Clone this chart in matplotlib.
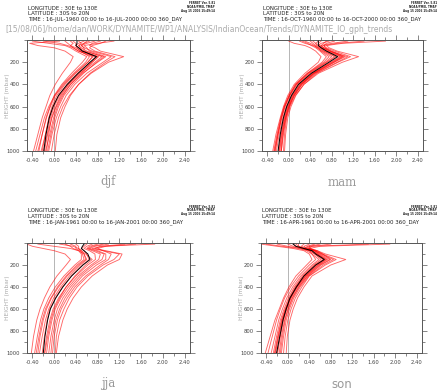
import matplotlib
matplotlib.use("Agg")
import matplotlib.pyplot as plt
from matplotlib.ticker import MultipleLocator, FixedLocator

levels = [10, 30, 50, 70, 100, 150, 200, 300, 400, 500, 600, 700, 850, 1000]

# ---- djf ----
djf_members = [
    [0.10, -0.45, -0.30, 0.00, 0.20, 0.35, 0.30, 0.15, 0.02, -0.08, -0.15, -0.22, -0.30, -0.38],
    [0.60, 0.55, 0.50, 0.55, 0.70, 1.05, 0.90, 0.60, 0.38, 0.22, 0.12, 0.04, -0.04, -0.10],
    [0.85, 0.70, 0.65, 0.75, 0.85, 1.28, 1.00, 0.68, 0.45, 0.30, 0.20, 0.12, 0.05, 0.02],
    [0.30, 0.35, 0.30, 0.35, 0.45, 0.70, 0.62, 0.40, 0.20, 0.05, -0.04, -0.10, -0.16, -0.22],
    [-0.40, -0.10, 0.20, 0.30, 0.40, 0.60, 0.52, 0.32, 0.14, 0.00, -0.08, -0.15, -0.22, -0.28],
    [1.10, 0.80, 0.55, 0.60, 0.65, 0.95, 0.80, 0.52, 0.30, 0.14, 0.04, -0.04, -0.12, -0.18],
    [0.45, 0.50, 0.45, 0.50, 0.60, 0.88, 0.75, 0.48, 0.27, 0.12, 0.03, -0.05, -0.10, -0.14],
    [0.20, 0.25, 0.30, 0.40, 0.50, 0.82, 0.70, 0.46, 0.26, 0.10, 0.00, -0.07, -0.13, -0.20],
    [0.75, 0.60, 0.50, 0.55, 0.55, 0.72, 0.62, 0.38, 0.18, 0.02, -0.07, -0.14, -0.22, -0.30],
    [0.55, 0.45, 0.40, 0.42, 0.48, 0.65, 0.58, 0.36, 0.16, 0.01, -0.10, -0.18, -0.26, -0.34],
    [0.95, 0.85, 0.70, 0.65, 0.75, 1.12, 0.95, 0.66, 0.45, 0.28, 0.16, 0.08, 0.00, -0.05],
    [-0.20, 0.10, 0.25, 0.35, 0.45, 0.76, 0.68, 0.44, 0.24, 0.08, -0.02, -0.09, -0.16, -0.24],
    [0.35, 0.40, 0.40, 0.45, 0.55, 0.92, 0.78, 0.54, 0.34, 0.18, 0.08, 0.01, -0.06, -0.12],
    [0.65, 0.55, 0.45, 0.48, 0.52, 0.80, 0.70, 0.50, 0.30, 0.16, 0.06, -0.01, -0.08, -0.16],
]
djf_mean = [0.42, 0.42, 0.40, 0.45, 0.52, 0.78, 0.66, 0.44, 0.24, 0.08, -0.02, -0.09, -0.15, -0.19]

# ---- mam ----
mam_members = [
    [0.00, 0.10, 0.30, 0.40, 0.50, 0.60, 0.55, 0.30, 0.10, -0.02, -0.10, -0.16, -0.24, -0.30],
    [1.80, 1.00, 0.70, 0.75, 0.90, 1.30, 1.00, 0.55, 0.28, 0.12, 0.02, -0.04, -0.08, -0.10],
    [0.40, 0.45, 0.50, 0.55, 0.65, 0.85, 0.70, 0.38, 0.15, 0.02, -0.07, -0.13, -0.20, -0.25],
    [0.70, 0.65, 0.60, 0.65, 0.80, 1.05, 0.85, 0.48, 0.24, 0.10, 0.00, -0.06, -0.12, -0.15],
    [0.20, 0.30, 0.45, 0.55, 0.60, 0.75, 0.65, 0.35, 0.12, 0.00, -0.09, -0.15, -0.22, -0.28],
    [1.10, 0.80, 0.60, 0.65, 0.75, 1.10, 0.90, 0.50, 0.25, 0.10, 0.01, -0.05, -0.10, -0.14],
    [0.55, 0.50, 0.55, 0.60, 0.70, 0.95, 0.78, 0.44, 0.20, 0.06, -0.03, -0.09, -0.15, -0.19],
    [0.85, 0.70, 0.65, 0.70, 0.85, 1.15, 0.92, 0.52, 0.28, 0.13, 0.04, -0.02, -0.06, -0.08],
    [0.30, 0.40, 0.48, 0.52, 0.62, 0.80, 0.68, 0.36, 0.14, 0.01, -0.08, -0.14, -0.21, -0.27],
    [0.60, 0.55, 0.58, 0.62, 0.72, 0.98, 0.80, 0.45, 0.21, 0.07, -0.02, -0.08, -0.14, -0.18],
    [1.40, 0.90, 0.65, 0.68, 0.78, 1.02, 0.84, 0.47, 0.22, 0.08, -0.01, -0.07, -0.13, -0.17],
    [0.45, 0.50, 0.52, 0.58, 0.66, 0.88, 0.72, 0.40, 0.17, 0.04, -0.05, -0.11, -0.18, -0.23],
    [0.75, 0.60, 0.55, 0.62, 0.76, 1.00, 0.82, 0.46, 0.23, 0.09, 0.00, -0.06, -0.11, -0.14],
    [0.25, 0.35, 0.42, 0.50, 0.58, 0.70, 0.62, 0.34, 0.13, 0.01, -0.08, -0.14, -0.20, -0.26],
]
mam_mean = [0.55, 0.55, 0.55, 0.60, 0.70, 0.91, 0.75, 0.42, 0.18, 0.05, -0.04, -0.10, -0.16, -0.20]

# ---- jja ----
jja_members = [
    [1.85, 0.90, 0.70, 0.90, 1.20, 1.10, 0.90, 0.62, 0.42, 0.28, 0.18, 0.10, 0.04, 0.02],
    [-0.50, -0.40, -0.20, 0.00, 0.20, 0.30, 0.22, 0.05, -0.08, -0.18, -0.26, -0.32, -0.38, -0.42],
    [1.30, 0.85, 0.75, 0.95, 1.25, 1.20, 0.98, 0.70, 0.50, 0.35, 0.24, 0.16, 0.08, 0.04],
    [0.60, 0.55, 0.50, 0.55, 0.60, 0.64, 0.52, 0.32, 0.15, 0.02, -0.08, -0.13, -0.18, -0.22],
    [0.20, 0.30, 0.35, 0.45, 0.55, 0.58, 0.45, 0.24, 0.08, -0.05, -0.14, -0.20, -0.26, -0.30],
    [1.00, 0.75, 0.65, 0.80, 0.95, 0.95, 0.78, 0.52, 0.34, 0.20, 0.10, 0.03, -0.03, -0.06],
    [0.80, 0.65, 0.60, 0.70, 0.85, 0.82, 0.68, 0.44, 0.26, 0.12, 0.02, -0.04, -0.10, -0.14],
    [-0.30, 0.00, 0.30, 0.45, 0.50, 0.50, 0.38, 0.18, 0.02, -0.10, -0.19, -0.25, -0.31, -0.36],
    [0.40, 0.45, 0.45, 0.50, 0.58, 0.70, 0.58, 0.38, 0.22, 0.10, 0.00, -0.06, -0.12, -0.17],
    [1.50, 0.95, 0.80, 0.90, 1.05, 1.00, 0.85, 0.58, 0.38, 0.24, 0.13, 0.06, 0.00, -0.03],
    [0.10, 0.35, 0.45, 0.50, 0.55, 0.60, 0.48, 0.28, 0.12, -0.01, -0.10, -0.16, -0.22, -0.27],
    [0.70, 0.60, 0.55, 0.65, 0.75, 0.76, 0.62, 0.40, 0.22, 0.08, -0.02, -0.08, -0.14, -0.18],
    [0.90, 0.70, 0.62, 0.75, 0.92, 0.88, 0.72, 0.48, 0.30, 0.16, 0.06, 0.00, -0.06, -0.10],
    [0.30, 0.40, 0.40, 0.48, 0.52, 0.55, 0.42, 0.22, 0.06, -0.06, -0.16, -0.22, -0.28, -0.33],
]
jja_mean = [0.55, 0.52, 0.50, 0.55, 0.62, 0.66, 0.53, 0.32, 0.16, 0.03, -0.07, -0.12, -0.17, -0.20]

# ---- son ----
son_members = [
    [1.90, 0.60, 0.40, 0.55, 0.70, 1.08, 0.80, 0.45, 0.30, 0.18, 0.10, 0.04, -0.01, -0.03],
    [1.50, 0.40, 0.30, 0.50, 0.65, 0.90, 0.70, 0.40, 0.26, 0.14, 0.06, 0.00, -0.05, -0.08],
    [-0.50, -0.20, 0.10, 0.30, 0.40, 0.45, 0.35, 0.15, 0.02, -0.08, -0.16, -0.24, -0.33, -0.42],
    [0.10, 0.15, 0.30, 0.45, 0.55, 0.70, 0.55, 0.32, 0.16, 0.05, -0.03, -0.09, -0.15, -0.20],
    [0.30, 0.25, 0.35, 0.50, 0.60, 0.78, 0.60, 0.36, 0.20, 0.08, 0.00, -0.06, -0.12, -0.16],
    [-0.20, 0.00, 0.25, 0.40, 0.45, 0.58, 0.45, 0.24, 0.09, -0.02, -0.10, -0.17, -0.24, -0.31],
    [0.50, 0.35, 0.40, 0.50, 0.58, 0.74, 0.58, 0.34, 0.18, 0.06, -0.02, -0.08, -0.14, -0.19],
    [0.00, 0.10, 0.25, 0.40, 0.50, 0.62, 0.48, 0.27, 0.12, 0.01, -0.07, -0.14, -0.21, -0.27],
    [0.80, 0.45, 0.38, 0.52, 0.62, 0.85, 0.66, 0.39, 0.23, 0.11, 0.03, -0.03, -0.08, -0.12],
    [0.20, 0.20, 0.30, 0.42, 0.50, 0.66, 0.50, 0.29, 0.14, 0.03, -0.05, -0.12, -0.19, -0.25],
    [-0.40, -0.10, 0.20, 0.35, 0.45, 0.52, 0.40, 0.20, 0.05, -0.06, -0.14, -0.21, -0.29, -0.37],
    [0.60, 0.40, 0.42, 0.55, 0.65, 0.80, 0.62, 0.37, 0.21, 0.09, 0.01, -0.05, -0.10, -0.14],
    [0.15, 0.20, 0.32, 0.46, 0.54, 0.72, 0.56, 0.33, 0.17, 0.05, -0.04, -0.10, -0.17, -0.23],
    [0.40, 0.30, 0.36, 0.48, 0.56, 0.68, 0.52, 0.30, 0.15, 0.04, -0.04, -0.11, -0.18, -0.24],
]
son_mean = [0.10, 0.15, 0.30, 0.45, 0.52, 0.68, 0.52, 0.30, 0.16, 0.04, -0.03, -0.09, -0.15, -0.21]

seasons = ["djf", "mam", "jja", "son"]
times = ["16-JUL-1960 00:00 to 16-JUL-2000 00:00 360_DAY",
         "16-OCT-1960 00:00 to 16-OCT-2000 00:00 360_DAY",
         "16-JAN-1961 00:00 to 16-JAN-2001 00:00 360_DAY",
         "16-APR-1961 00:00 to 16-APR-2001 00:00 360_DAY"]
members = [djf_members, mam_members, jja_members, son_members]
means = [djf_mean, mam_mean, jja_mean, son_mean]

xticks = [-0.4, 0.0, 0.4, 0.8, 1.2, 1.6, 2.0, 2.4]
xlabels = ["-0.40", "0.00", "0.40", "0.80", "1.20", "1.60", "2.00", "2.40"]
yticks = [200, 400, 600, 800, 1000]

W, H = 440, 390
fig = plt.figure(figsize=(4.4, 3.9), dpi=100)

# axes boxes in pixels: left, top, right, bottom
boxes = [(27, 40, 190, 151), (262, 40, 423, 151),
         (27, 243, 190, 353), (261, 243, 422, 353)]
titlefam = ["serif", "serif", "serif", "sans-serif"]

frame_col = "#555555"
for i in range(4):
    l, t, r, b = boxes[i]
    ax = fig.add_axes([l / W, 1 - b / H, (r - l) / W, (b - t) / H])
    ax.axvline(0, color="#aaaaaa", lw=0.6, zorder=1)
    for m in members[i]:
        ax.plot(m, levels, color="#ff0000", lw=0.65, alpha=0.6, zorder=2)
    ax.plot(means[i], levels, color="black", lw=0.7, zorder=3)
    ax.set_xlim(-0.5, 2.5)
    ax.set_ylim(1000, 0)
    ax.xaxis.set_major_locator(FixedLocator(xticks))
    ax.set_xticklabels(xlabels)
    ax.xaxis.set_minor_locator(MultipleLocator(0.2))
    ax.yaxis.set_major_locator(FixedLocator(yticks))
    ax.yaxis.set_minor_locator(MultipleLocator(100))
    ax.tick_params(which="both", direction="out", top=True, right=True,
                   colors=frame_col, labelcolor="#444444", labelsize=3.8,
                   width=0.5, pad=1.5)
    ax.tick_params(which="major", length=3.5)
    ax.tick_params(which="minor", length=2.5)
    for s in ax.spines.values():
        s.set_color(frame_col)
        s.set_linewidth(0.7)
    ax.set_ylabel("HEIGHT (mbar)", fontsize=4.2, color="#aaaaaa")
    ax.yaxis.set_label_coords(-17.0 / (r - l), 0.5)

    # header block
    fig.text(l / W + 0.002, 1 - (t - 32) / H, "LONGITUDE : 30E to 130E",
             fontsize=3.9, color="#222222", va="center")
    fig.text(l / W + 0.002, 1 - (t - 26.5) / H, "LATITUDE : 30S to 20N",
             fontsize=3.9, color="#222222", va="center")
    fig.text(l / W + 0.002, 1 - (t - 21) / H, "TIME : " + times[i],
             fontsize=3.9, color="#222222", va="center")
    fig.text(min(r + 25, 437) / W, 1 - (t - 38.5) / H,
             "FERRET Ver. 5.81\nNOAA/PMEL TMAP\nAug 15 2006 15:49:14",
             fontsize=2.0, color="#222222", ha="right", va="top",
             linespacing=0.9, fontweight="bold")

    # season label
    fig.text((l + r) / 2 / W, 1 - (b + 31) / H, seasons[i], fontsize=8.5,
             color="#999999", family=titlefam[i], ha="center", va="center")

fig.text(5 / W, 1 - 30 / H,
         "[15/08/06]/home/dan/WORK/DYNAMITE/WP1/ANALYSIS/IndianOcean/Trends/DYNAMITE_IO_gph_trends",
         fontsize=5.5, color="#aaaaaa", va="center")

fig.savefig("out.png", dpi=100)
